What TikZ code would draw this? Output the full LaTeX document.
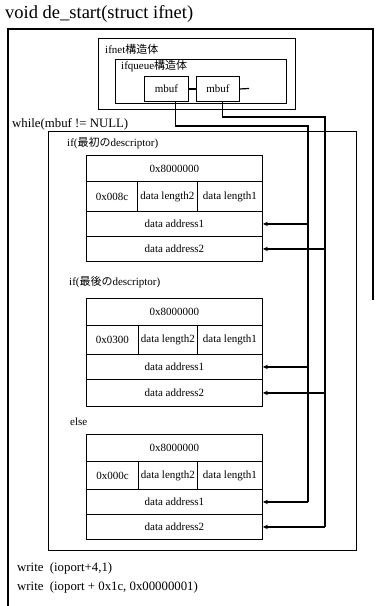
\documentclass[tikz,border=0pt]{standalone}
\usepackage{fontspec}
\setmainfont{Liberation Serif}
\newfontfamily\jp{Noto Sans CJK JP}
\usetikzlibrary{arrows.meta}
\begin{document}
\begin{tikzpicture}[x=1pt,y=-1pt,
  box/.style={draw,line width=1pt,inner sep=0pt,anchor=north west},
  cell/.style={draw,line width=0.9pt,inner sep=0pt,anchor=north west,font=\fontsize{11}{12}\selectfont},
  lbl/.style={anchor=west,inner sep=0pt,font=\fontsize{11}{12}\selectfont},
  big/.style={anchor=west,inner sep=0pt,font=\fontsize{12.8}{14}\selectfont},
  conn/.style={line width=1.8pt},
  arr/.style={line width=1.8pt,-{Stealth[length=5pt,width=4.5pt]}}]
\useasboundingbox (0,0) rectangle (376,606);
% title
\node[anchor=west,inner sep=0pt,font=\fontsize{18.5}{20}\selectfont] (title) at (5,14) {void de\_start(struct ifnet)};
% outer box (open)
\coordinate (otl) at (8,29);
\coordinate (otr) at (373,29);
\coordinate (obl) at (8,606);
\coordinate (obr) at (373,300);
\draw[line width=1.2pt] (obl) -- (otl) -- (otr) -- (obr);
% ifnet structures
\node[box,minimum width=197pt,minimum height=71pt] (ifnet) at (98,38) {};
\node[lbl] (ifnetl) at (105,49) {ifnet{\jp 構造体}};
\node[box,minimum width=171pt,minimum height=44pt] (ifq) at (115,59) {};
\node[lbl] (ifql) at (121,66) {ifqueue{\jp 構造体}};
\node[cell,minimum width=44pt,minimum height=25pt] (mb1) at (144,76) {mbuf};
\node[cell,minimum width=43pt,minimum height=25pt] (mb2) at (196,76) {mbuf};
\coordinate (stub) at (249,88.5);
\draw[line width=1.2pt] (mb1.east) -- (mb2.west);
\draw[line width=1.2pt] (mb2.east) -- (stub);
% while
\node[big] (whilel) at (12,124) {while(mbuf != NULL)};
\node[box,minimum width=308pt,minimum height=419pt] (wbox) at (48,131) {};
% descriptor 1
\node[lbl] (if1) at (67,143) {if({\jp 最初の}descriptor)};
\node[cell,minimum width=176pt,minimum height=26pt] (d1r1) at (86,155) {0x8000000};
\node[cell,minimum width=51pt,minimum height=30pt] (d1c1) at (86,181) {0x008c};
\node[cell,minimum width=60pt,minimum height=30pt] (d1c2) at (137,181) {data length2};
\node[cell,minimum width=65pt,minimum height=30pt] (d1c3) at (197,181) {data length1};
\node[cell,minimum width=176pt,minimum height=25pt] (d1a1) at (86,211) {data address1};
\node[cell,minimum width=176pt,minimum height=25pt] (d1a2) at (86,236) {data address2};
% descriptor 2
\node[lbl] (if2) at (69,282) {if({\jp 最後の}descriptor)};
\node[cell,minimum width=176pt,minimum height=27pt] (d2r1) at (86,298) {0x8000000};
\node[cell,minimum width=52pt,minimum height=29pt] (d2c1) at (86,325) {0x0300};
\node[cell,minimum width=59pt,minimum height=29pt] (d2c2) at (138,325) {data length2};
\node[cell,minimum width=65pt,minimum height=29pt] (d2c3) at (197,325) {data length1};
\node[cell,minimum width=176pt,minimum height=25pt] (d2a1) at (86,354) {data address1};
\node[cell,minimum width=176pt,minimum height=27pt] (d2a2) at (86,379) {data address2};
% descriptor 3
\node[lbl] (else) at (70,422) {else};
\node[cell,minimum width=176pt,minimum height=27pt] (d3r1) at (86,434) {0x8000000};
\node[cell,minimum width=52pt,minimum height=28pt] (d3c1) at (86,461) {0x000c};
\node[cell,minimum width=59pt,minimum height=28pt] (d3c2) at (138,461) {data length2};
\node[cell,minimum width=65pt,minimum height=28pt] (d3c3) at (197,461) {data length1};
\node[cell,minimum width=176pt,minimum height=25pt] (d3a1) at (86,489) {data address1};
\node[cell,minimum width=176pt,minimum height=25pt] (d3a2) at (86,514) {data address2};
% writes
\node[big] (w1) at (17,568) {write\ \ (ioport+4,1)};
\node[big] (w2) at (17,587) {write\ \ (ioport + 0x1c, 0x00000001)};
% connectors
\coordinate (A) at (308,126);
\coordinate (B) at (325,117);
\draw[conn] ([xshift=9pt]mb1.south) |- (A) -- (A |- d3a1.east);
\draw[arr] (A |- d3a1.east) -- (d3a1.east);
\draw[arr] (A |- d1a1.east) -- (d1a1.east);
\draw[arr] (A |- d2a1.east) -- (d2a1.east);
\draw[conn] ([xshift=4.5pt]mb2.south) |- (B) -- (B |- d3a2.east);
\draw[arr] (B |- d3a2.east) -- (d3a2.east);
\draw[arr] (B |- d1a2.east) -- (d1a2.east);
\draw[arr] (B |- d2a2.east) -- (d2a2.east);
\end{tikzpicture}
\end{document}
